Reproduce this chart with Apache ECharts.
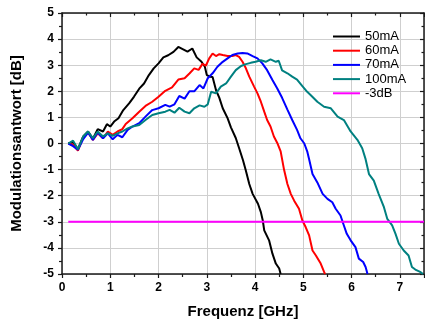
<!DOCTYPE html>
<html>
<head>
<meta charset="utf-8">
<script src="https://cdn.jsdelivr.net/npm/echarts@6/dist/echarts.min.js"></script>
<style>
  html, body { margin: 0; padding: 0; background: #fff; }
  #chart { width: 425px; height: 322px; }
</style>
</head>
<body>
<div id="chart"></div>
<script>
// [frequency GHz, response dB]
const curve50mA = [
  [0.13, 0], [0.23, 0.05], [0.33, -0.22], [0.44, 0.27], [0.54, 0.46], [0.64, 0.18], [0.74, 0.55],
  [0.85, 0.46], [0.93, 0.74], [1.0, 0.65], [1.08, 0.84], [1.17, 0.97], [1.27, 1.28], [1.39, 1.54],
  [1.49, 1.79], [1.6, 2.1], [1.7, 2.3], [1.8, 2.62], [1.9, 2.88], [2.0, 3.07], [2.1, 3.3],
  [2.2, 3.38], [2.31, 3.51], [2.41, 3.7], [2.52, 3.6], [2.6, 3.52], [2.7, 3.64], [2.79, 3.3],
  [2.89, 3.13], [2.96, 2.94], [3.0, 2.62], [3.07, 2.56], [3.12, 2.55], [3.19, 2.05], [3.26, 1.75],
  [3.33, 1.35], [3.43, 0.97], [3.5, 0.62], [3.6, 0.21], [3.67, -0.18], [3.75, -0.64], [3.81, -1.04],
  [3.88, -1.55], [3.95, -1.93], [4.06, -2.31], [4.12, -2.63], [4.16, -2.95], [4.19, -3.33],
  [4.29, -3.71], [4.36, -4.22], [4.43, -4.6], [4.5, -4.79], [4.53, -5]
];
const curve60mA = [
  [0.13, 0], [0.23, -0.05], [0.33, -0.27], [0.44, 0.24], [0.54, 0.42], [0.64, 0.14], [0.74, 0.39],
  [0.85, 0.2], [0.95, 0.46], [1.05, 0.33], [1.15, 0.46], [1.25, 0.55], [1.32, 0.75], [1.46, 0.97],
  [1.6, 1.22], [1.73, 1.44], [1.87, 1.6], [2.0, 1.79], [2.14, 2.02], [2.28, 2.15], [2.41, 2.45],
  [2.54, 2.5], [2.64, 2.68], [2.74, 2.88], [2.83, 2.82], [2.91, 3.05], [2.98, 2.98], [3.05, 3.26],
  [3.12, 3.45], [3.19, 3.35], [3.26, 3.42], [3.33, 3.39], [3.43, 3.35], [3.53, 3.35], [3.6, 3.39],
  [3.67, 3.32], [3.74, 3.13], [3.81, 2.88], [3.88, 2.56], [3.98, 2.18], [4.05, 1.92], [4.12, 1.6],
  [4.19, 1.22], [4.25, 0.9], [4.32, 0.65], [4.39, 0.27], [4.46, 0.02], [4.53, -0.3], [4.6, -1.0],
  [4.67, -1.55], [4.74, -1.93], [4.81, -2.19], [4.91, -2.5], [4.98, -2.95], [5.05, -3.21],
  [5.12, -3.52], [5.19, -4.1], [5.26, -4.29], [5.36, -4.6], [5.43, -4.92], [5.45, -5]
];
const curve70mA = [
  [0.13, 0], [0.23, -0.1], [0.33, -0.24], [0.44, 0.17], [0.54, 0.42], [0.64, 0.14], [0.74, 0.42],
  [0.85, 0.2], [0.95, 0.39], [1.05, 0.16], [1.15, 0.33], [1.25, 0.24], [1.36, 0.52], [1.46, 0.65],
  [1.6, 0.78], [1.73, 1.03], [1.87, 1.28], [2.0, 1.35], [2.14, 1.48], [2.23, 1.41], [2.33, 1.5],
  [2.43, 1.82], [2.54, 1.72], [2.64, 2.0], [2.74, 2.0], [2.85, 2.24], [2.93, 2.11], [3.02, 2.5],
  [3.12, 2.69], [3.22, 2.94], [3.33, 3.13], [3.43, 3.26], [3.53, 3.39], [3.64, 3.45], [3.74, 3.47],
  [3.84, 3.45], [3.95, 3.35], [4.05, 3.26], [4.15, 3.07], [4.25, 2.81], [4.36, 2.43], [4.46, 2.11],
  [4.56, 1.75], [4.67, 1.3], [4.77, 0.9], [4.87, 0.52], [4.94, 0.2], [5.02, 0.0], [5.08, -0.3],
  [5.12, -0.6], [5.19, -1.17], [5.29, -1.49], [5.4, -1.93], [5.5, -2.12], [5.6, -2.25], [5.67, -2.5],
  [5.77, -2.76], [5.84, -3.14], [5.9, -3.46], [5.98, -3.71], [6.08, -3.97], [6.15, -4.41],
  [6.24, -4.54], [6.29, -4.73], [6.33, -5]
];
const curve100mA = [
  [0.13, 0], [0.23, 0.11], [0.33, -0.22], [0.44, 0.27], [0.54, 0.46], [0.64, 0.2], [0.74, 0.46],
  [0.85, 0.27], [0.95, 0.39], [1.05, 0.29], [1.15, 0.39], [1.25, 0.46], [1.36, 0.58], [1.46, 0.65],
  [1.6, 0.71], [1.73, 0.9], [1.87, 1.09], [2.0, 1.16], [2.14, 1.22], [2.23, 1.29], [2.33, 1.18],
  [2.43, 1.37], [2.54, 1.22], [2.64, 1.16], [2.74, 1.35], [2.85, 1.46], [2.95, 1.41], [3.02, 1.5],
  [3.09, 1.98], [3.19, 1.92], [3.29, 2.18], [3.4, 2.3], [3.5, 2.56], [3.6, 2.81], [3.71, 2.97],
  [3.81, 3.04], [3.91, 3.09], [4.01, 3.13], [4.12, 3.19], [4.22, 3.13], [4.32, 3.22], [4.43, 3.13],
  [4.49, 3.17], [4.56, 2.8], [4.67, 2.69], [4.77, 2.56], [4.87, 2.45], [4.98, 2.2], [5.08, 1.98],
  [5.15, 1.86], [5.29, 1.6], [5.43, 1.41], [5.57, 1.35], [5.71, 1.03], [5.84, 0.9], [5.98, 0.46],
  [6.12, 0.14], [6.22, -0.18], [6.29, -0.6], [6.36, -1.17], [6.46, -1.42], [6.56, -1.93],
  [6.67, -2.44], [6.74, -2.89], [6.84, -3.14], [6.91, -3.46], [6.98, -3.84], [7.08, -4.1],
  [7.18, -4.29], [7.25, -4.73], [7.32, -4.83], [7.42, -4.92], [7.48, -5]
];
const line3dB = [[0.13, -3], [7.5, -3]];

const seriesNames = ['50mA', '60mA', '70mA', '100mA', '-3dB'];
const seriesColors = ['#000000', '#ff0000', '#0000ff', '#008080', '#ff00ff'];
const seriesData = [curve50mA, curve60mA, curve70mA, curve100mA, line3dB];

const FONT = 'Liberation Sans, Arial, sans-serif';
const AXIS_COLOR = '#1a1a1a';

const chart = echarts.init(document.getElementById('chart'), null, { renderer: 'canvas' });

const tickLabel = { fontFamily: FONT, fontWeight: 'bold', fontSize: 12, color: '#000' };

chart.setOption({
  animation: false,
  backgroundColor: '#fff',
  grid: { left: 62, right: 1, top: 13, bottom: 48, outerBoundsMode: 'none' },
  legend: {
    orient: 'vertical',
    left: 327,
    top: 25,
    itemWidth: 27,
    itemHeight: 14,
    itemGap: 1.2,
    itemStyle: { opacity: 0, borderWidth: 0 },
    textStyle: { fontFamily: FONT, fontSize: 13, color: '#000' },
    data: seriesNames
  },
  xAxis: [
    {
      type: 'value',
      min: 0,
      max: 7.5,
      interval: 1,
      name: 'Frequenz [GHz]',
      nameLocation: 'middle',
      nameGap: 30,
      nameTextStyle: { fontFamily: FONT, fontWeight: 'bold', fontSize: 15, color: '#000' },
      axisLine: { onZero: false, lineStyle: { color: AXIS_COLOR, width: 1.5 } },
      axisTick: { length: 4, lineStyle: { color: AXIS_COLOR, width: 1.2 } },
      minorTick: { show: true, splitNumber: 2, length: 3, lineStyle: { color: AXIS_COLOR, width: 1.2 } },
      axisLabel: Object.assign({ margin: 8, showMaxLabel: false }, tickLabel),
      splitLine: { show: true, lineStyle: { color: '#cfcfcf', width: 1 } }
    },
    {
      type: 'value',
      position: 'top',
      min: 0,
      max: 7.5,
      interval: 1,
      axisLine: { show: true, onZero: false, lineStyle: { color: AXIS_COLOR, width: 1.5 } },
      axisTick: { show: true, inside: true, length: 4, lineStyle: { color: AXIS_COLOR, width: 1.2 } },
      minorTick: { show: true, splitNumber: 2, length: 2.5, lineStyle: { color: AXIS_COLOR, width: 1.2 } },
      axisLabel: { show: false },
      splitLine: { show: false }
    }
  ],
  yAxis: [
    {
      type: 'value',
      min: -5,
      max: 5,
      interval: 1,
      name: 'Modulationsantwort [dB]',
      nameLocation: 'middle',
      nameGap: 38,
      nameTextStyle: { fontFamily: FONT, fontWeight: 'bold', fontSize: 15, color: '#000' },
      axisLine: { show: true, onZero: false, lineStyle: { color: AXIS_COLOR, width: 1.5 } },
      axisTick: { show: true, length: 4, lineStyle: { color: AXIS_COLOR, width: 1.2 } },
      minorTick: { show: true, splitNumber: 2, length: 3, lineStyle: { color: AXIS_COLOR, width: 1.2 } },
      axisLabel: Object.assign({ margin: 8 }, tickLabel),
      splitLine: { show: true, lineStyle: { color: '#cfcfcf', width: 1 } }
    },
    {
      type: 'value',
      position: 'right',
      min: -5,
      max: 5,
      interval: 1,
      axisLine: { show: true, onZero: false, lineStyle: { color: AXIS_COLOR, width: 1.5 } },
      axisTick: { show: true, inside: true, length: 4, lineStyle: { color: AXIS_COLOR, width: 1.2 } },
      minorTick: { show: true, splitNumber: 2, length: 2.5, lineStyle: { color: AXIS_COLOR, width: 1.2 } },
      axisLabel: { show: false },
      splitLine: { show: false }
    }
  ],
  series: seriesData.map((data, i) => ({
    name: seriesNames[i],
    type: 'line',
    data: data,
    symbol: 'none',
    clip: true,
    lineStyle: { color: seriesColors[i], width: 2 },
    itemStyle: { color: seriesColors[i] }
  }))
});
</script>
</body>
</html>
